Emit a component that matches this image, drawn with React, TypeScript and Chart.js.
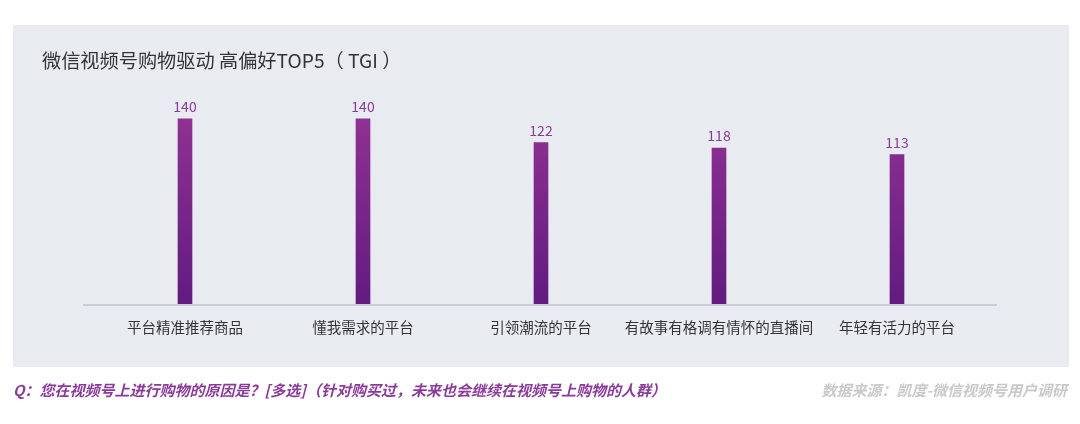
import React, { useEffect, useRef } from "react";
import { Chart, registerables } from "chart.js";

Chart.register(...registerables);

const categories = ["平台精准推荐商品", "懂我需求的平台", "引领潮流的平台", "有故事有格调有情怀的直播间", "年轻有活力的平台"];
const tgiValues = [140, 140, 122, 118, 113];
const titleText = "微信视频号购物驱动 高偏好TOP5（ TGI ）";
const questionText = "Q：您在视频号上进行购物的原因是？[多选]（针对购买过，未来也会继续在视频号上购物的人群）";
const sourceText = "数据来源：凯度-微信视频号用户调研";

const FONT = '"Noto Sans CJK SC", "Noto Sans", sans-serif';

export default function App() {
  const ref = useRef<HTMLCanvasElement | null>(null);

  useEffect(() => {
    if (!ref.current) return;
    const baselinePlugin = {
      id: "baseline",
      beforeDatasetsDraw(chart: any) {
        const ctx = chart.ctx;
        const y = chart.scales.y.getPixelForValue(0);
        ctx.save();
        ctx.strokeStyle = "#c5cdd8";
        ctx.lineWidth = 2;
        ctx.beginPath();
        ctx.moveTo(83, y + 1);
        ctx.lineTo(997, y + 1);
        ctx.stroke();
        ctx.restore();
      },
    };
    const labelPlugin = {
      id: "valueLabels",
      afterDatasetsDraw(chart: any) {
        const ctx = chart.ctx;
        const meta = chart.getDatasetMeta(0);
        ctx.save();
        ctx.font = `14px ${FONT}`;
        ctx.fillStyle = "#8b3c98";
        ctx.textAlign = "center";
        ctx.textBaseline = "middle";
        meta.data.forEach((bar: any, i: number) => {
          ctx.fillText(String(chart.data.datasets[0].data[i]), bar.x, bar.y - 12);
        });
        ctx.restore();
      },
    };
    const chart = new Chart(ref.current, {
      type: "bar",
      data: {
        labels: categories,
        datasets: [
          {
            data: tgiValues,
            barThickness: 14,
            backgroundColor: (c: any) => {
              const ch = c.chart;
              const area = ch.chartArea;
              if (!area) return "#7a2790";
              const ys = ch.scales.y;
              const g = ch.ctx.createLinearGradient(0, ys.getPixelForValue(140), 0, ys.getPixelForValue(0));
              g.addColorStop(0, "#8e3192");
              g.addColorStop(1, "#621b80");
              return g;
            },
          },
        ],
      },
      options: {
        animation: false,
        responsive: false,
        maintainAspectRatio: false,
        layout: { padding: { left: 96, right: 94, top: 66, bottom: 80 } },
        plugins: { legend: { display: false }, tooltip: { enabled: false } },
        scales: {
          x: {
            grid: { display: false, drawTicks: false },
            border: { display: false },
            ticks: {
              padding: 15,
              color: "#333333",
              maxRotation: 0,
              minRotation: 0,
              autoSkip: false,
              font: { size: 14.5, family: FONT },
            },
            afterFit: (s: any) => {
              s.height = 40;
            },
          },
          y: {
            display: false,
            min: 0,
            max: 180,
          },
        },
      },
      plugins: [baselinePlugin, labelPlugin],
    });
    return () => chart.destroy();
  }, []);

  return (
    <div style={{ position: "fixed", left: 0, top: 0, width: 1080, height: 424, background: "#ffffff", overflow: "hidden", fontFamily: FONT }}>
      <div style={{ position: "absolute", left: 13, top: 25, width: 1056, height: 342, background: "#e8ebf0" }} />
      <canvas ref={ref} width={1080} height={424} style={{ position: "absolute", left: 0, top: 0, width: 1080, height: 424 }} />
      <div style={{ position: "absolute", left: 42, top: 47, fontSize: 19.2, lineHeight: "26px", color: "#333333", whiteSpace: "nowrap" }}>
        {titleText}
      </div>
      <div style={{ position: "absolute", left: 13, top: 379, fontSize: 15, lineHeight: "22px", color: "#8a3b9a", fontWeight: "bold", fontStyle: "italic", whiteSpace: "nowrap" }}>
        {questionText}
      </div>
      <div style={{ position: "absolute", right: 13, top: 379, fontSize: 15, lineHeight: "22px", color: "#c9c9c9", fontWeight: "bold", fontStyle: "italic", whiteSpace: "nowrap" }}>
        {sourceText}
      </div>
    </div>
  );
}
